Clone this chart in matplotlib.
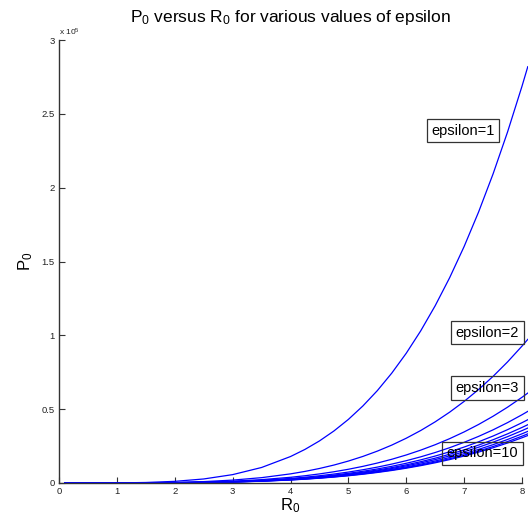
import matplotlib
matplotlib.use("Agg")
import matplotlib.pyplot as plt

plt.rcParams['font.family'] = ['Liberation Sans', 'DejaVu Sans']
plt.rcParams['mathtext.fontset'] = 'custom'
plt.rcParams['mathtext.rm'] = 'Liberation Sans'

R0 = [0.1, 0.5, 1, 1.5, 2, 2.5, 3, 3.5, 4, 4.25, 4.5, 4.75, 5, 5.25, 5.5, 5.75,
      6, 6.25, 6.5, 6.75, 7, 7.25, 7.5, 7.75, 8, 8.1]

# P0 values in units of 1e5
P_eps1 = [0, 0.00004, 0.0007, 0.0035, 0.0112, 0.0273, 0.0567, 0.105, 0.1792, 0.2275, 0.2848, 0.3522, 0.4306, 0.5214, 0.6254, 0.7442, 0.8787, 1.0304, 1.2005, 1.3904, 1.6015, 1.8353, 2.0930, 2.3766, 2.6870, 2.8192]
P_eps2 = [0, 0.00001, 0.00024, 0.0012, 0.0039, 0.0094, 0.0196, 0.0362, 0.0618, 0.0785, 0.0983, 0.1215, 0.1486, 0.1799, 0.2158, 0.2567, 0.3032, 0.3555, 0.4142, 0.4797, 0.5525, 0.6332, 0.7221, 0.8199, 0.9270, 0.9726]
P_eps3 = [0, 0.00001, 0.00015, 0.00076, 0.0024, 0.0059, 0.0122, 0.0227, 0.0387, 0.0491, 0.0615, 0.0761, 0.0930, 0.1126, 0.1351, 0.1607, 0.1898, 0.2226, 0.2593, 0.3003, 0.3459, 0.3964, 0.4521, 0.5133, 0.5804, 0.6089]
P_eps4 = [0, 0, 0.00012, 0.0006, 0.0019, 0.0047, 0.0098, 0.0181, 0.0308, 0.0391, 0.0490, 0.0606, 0.0741, 0.0897, 0.1076, 0.1280, 0.1511, 0.1772, 0.2065, 0.2391, 0.2755, 0.3157, 0.3600, 0.4088, 0.4622, 0.4849]
P_eps5 = [0, 0, 0.00011, 0.00053, 0.0017, 0.0041, 0.0086, 0.016, 0.0272, 0.0346, 0.0433, 0.0535, 0.0655, 0.0793, 0.0951, 0.1131, 0.1336, 0.1566, 0.1825, 0.2113, 0.2434, 0.2790, 0.3181, 0.3612, 0.4084, 0.4285]
P_eps6 = [0, 0, 0.0001, 0.00049, 0.0016, 0.0038, 0.0079, 0.0147, 0.0251, 0.0319, 0.0399, 0.0493, 0.0603, 0.0730, 0.0876, 0.1042, 0.1230, 0.1443, 0.1681, 0.1947, 0.2242, 0.2569, 0.2930, 0.3327, 0.3762, 0.3947]
P_eps7 = [0, 0, 0.00009, 0.00046, 0.0015, 0.0036, 0.0075, 0.0139, 0.0237, 0.0300, 0.0376, 0.0465, 0.0568, 0.0688, 0.0826, 0.0982, 0.1160, 0.1360, 0.1585, 0.1835, 0.2114, 0.2423, 0.2763, 0.3137, 0.3547, 0.3721]
P_eps8 = [0, 0, 0.00009, 0.00043, 0.0014, 0.0034, 0.007, 0.013, 0.0222, 0.0282, 0.0353, 0.0437, 0.0534, 0.0647, 0.0775, 0.0923, 0.1090, 0.1278, 0.1489, 0.1724, 0.1986, 0.2276, 0.2595, 0.2947, 0.3332, 0.3496]
P_eps9 = [0, 0, 0.00008, 0.00041, 0.0013, 0.0032, 0.0067, 0.0124, 0.0211, 0.0268, 0.0336, 0.0416, 0.0508, 0.0615, 0.0738, 0.0878, 0.1037, 0.1216, 0.1417, 0.1641, 0.1890, 0.2166, 0.2470, 0.2804, 0.3171, 0.3327]
P_eps10 = [0, 0, 0.00008, 0.0004, 0.0013, 0.0031, 0.0065, 0.012, 0.0204, 0.0259, 0.0325, 0.0402, 0.0491, 0.0594, 0.0713, 0.0848, 0.1002, 0.1175, 0.1369, 0.1585, 0.1826, 0.2092, 0.2386, 0.2709, 0.3063, 0.3214]

series = [P_eps1, P_eps2, P_eps3, P_eps4, P_eps5, P_eps6, P_eps7, P_eps8, P_eps9, P_eps10]

label_texts = ['epsilon=1', 'epsilon=2', 'epsilon=3', 'epsilon=10']
label_x = [6.98, 7.40, 7.40, 7.32]
label_y = [2.385, 1.017, 0.643, 0.201]

yticks = [0, 0.5, 1, 1.5, 2, 2.5, 3]
yticklabels = ['0', '0.5', '1', '1.5', '2', '2.5', '3']
xticks = [0, 1, 2, 3, 4, 5, 6, 7, 8]

fig = plt.figure(figsize=(5.28, 5.27), dpi=100)
ax = fig.add_axes([59/528, 44/527, 463/528, 443/527])

for s in series:
    ax.plot(R0, s, color='#0000ff', lw=0.9, clip_on=False)

for t, x, y in zip(label_texts, label_x, label_y):
    ax.text(x, y, t, ha='center', va='center', fontsize=10.5, color='black',
            bbox=dict(boxstyle='square,pad=0.32', facecolor='none', edgecolor='#333333', lw=0.9))

ax.set_xlim(0, 8)
ax.set_ylim(0, 3)
ax.set_xticks(xticks)
ax.set_xticklabels([str(v) for v in xticks])
ax.set_yticks(yticks)
ax.set_yticklabels(yticklabels)
ax.spines['top'].set_visible(False)
ax.spines['right'].set_visible(False)
for sp in ['left', 'bottom']:
    ax.spines[sp].set_color('#333333')
    ax.spines[sp].set_linewidth(1.0)
ax.tick_params(direction='in', length=4, width=0.8, color='#333333', labelsize=6.8, pad=3, labelcolor='#222222')

ax.set_title(r'$\mathregular{P_0}$ versus $\mathregular{R_0}$ for various values of epsilon', fontsize=12.5, pad=13)
ax.set_xlabel(r'$\mathregular{R_0}$', fontsize=12, labelpad=0)
ax.set_ylabel(r'$\mathregular{P_0}$', fontsize=12, labelpad=5)
ax.text(0.0, 1.005, r'x $\mathregular{10^5}$', transform=ax.transAxes, fontsize=6, ha='left', va='bottom', color='#222222')

fig.savefig('out.png', dpi=100)
